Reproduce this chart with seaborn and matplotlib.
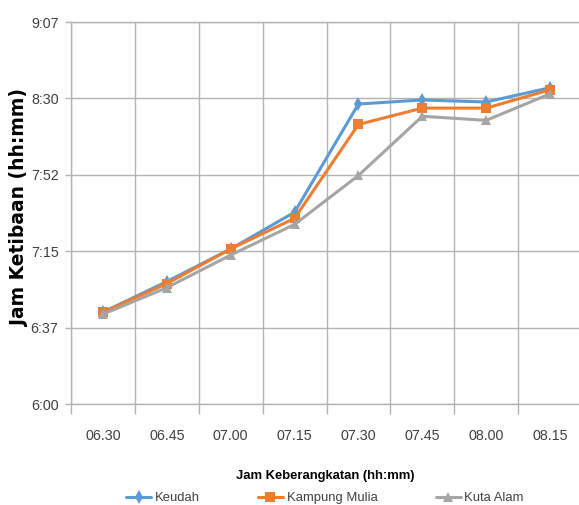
import numpy as np
import pandas as pd
import matplotlib
matplotlib.use("Agg")
import matplotlib.pyplot as plt
from matplotlib import font_manager
from matplotlib.ticker import FixedLocator, FuncFormatter
import seaborn as sns

# Departure times (categories) and arrival times per location
keberangkatan = ["06.30", "06.45", "07.00", "07.15", "07.30", "07.45", "08.00", "08.15"]
keudah = ["6:45", "7:00", "7:16", "7:34", "8:27", "8:29", "8:28", "8:35"]
kampung_mulia = ["6:45", "6:59", "7:16", "7:31", "8:17", "8:25", "8:25", "8:34"]
kuta_alam = ["6:44", "6:57", "7:13", "7:28", "7:52", "8:21", "8:19", "8:32"]
lokasi = ["Keudah", "Kampung Mulia", "Kuta Alam"]
warna = ["#5B9BD5", "#ED7D31", "#A5A5A5"]
penanda = ["d", "s", "^"]


def to_minutes(t):
    h, m = t.split(":")
    return int(h) * 60 + int(m)


def fmt_hm(v, _pos=None):
    total = int(round(v))
    return f"{total // 60}:{total % 60:02d}"


rows = []
for nama, seri in zip(lokasi, [keudah, kampung_mulia, kuta_alam]):
    for jam, t in zip(keberangkatan, seri):
        rows.append({"Keberangkatan": jam, "Ketibaan": to_minutes(t), "Lokasi": nama})
df = pd.DataFrame(rows)

sns.set_theme(style="white")
available = {f.name for f in font_manager.fontManager.ttflist}
if "Liberation Sans Narrow" in available:
    base_font, k = "Liberation Sans Narrow", 1.2
else:
    base_font, k = "Liberation Sans", 1.0
plt.rcParams["font.family"] = [base_font, "DejaVu Sans"]

fig = plt.figure(figsize=(5.79, 5.05), dpi=100)
ax = fig.add_axes([71 / 579, 0.2, (582 - 71) / 579, (404 - 22) / 505])

sns.lineplot(
    data=df, x="Keberangkatan", y="Ketibaan", hue="Lokasi", style="Lokasi",
    hue_order=lokasi, style_order=lokasi,
    palette=dict(zip(lokasi, warna)), markers=dict(zip(lokasi, penanda)),
    dashes=False, sort=False, linewidth=2.2, markersize=7,
    markeredgewidth=0, ax=ax, legend="auto",
)

# Y axis: 6:00 to 9:07 in steps of 0.026 day
step = 0.026 * 24 * 60
yticks = [360 + i * step for i in range(6)]
ax.set_ylim(yticks[0], yticks[-1])
ax.yaxis.set_major_locator(FixedLocator(yticks))
ax.yaxis.set_major_formatter(FuncFormatter(fmt_hm))

# X axis: categories with gridlines between them
ax.set_xlim(-0.5, len(keberangkatan) - 0.5)
ax.set_xticks(range(len(keberangkatan)))
ax.set_xticks(np.arange(-0.5, len(keberangkatan), 1.0), minor=True)

grid_c = "#B3B3B3"
ax.grid(False)
ax.yaxis.grid(True, which="major", color=grid_c, linewidth=1)
ax.xaxis.grid(True, which="minor", color=grid_c, linewidth=1)
ax.set_axisbelow(True)
for s in ax.spines.values():
    s.set_color(grid_c)
    s.set_linewidth(1)

ax.tick_params(axis="x", which="major", length=0, pad=18,
               labelsize=10.3 * k, labelcolor="#404040")
ax.tick_params(axis="x", which="minor", length=7, width=1, color=grid_c,
               direction="out", bottom=True)
ax.tick_params(axis="y", which="major", length=4, width=1, color=grid_c,
               direction="out", left=True, pad=5, labelsize=10.3 * k,
               labelcolor="#404040")

ax.set_xlabel("")
ax.set_ylabel("")
fig.text(325 / 579, 1 - 476 / 505, "Jam Keberangkatan (hh:mm)",
         ha="center", va="center", fontsize=9.4 * k, fontweight="bold",
         color="#000000")
fig.text(20 / 579, 1 - 208 / 505, "Jam Ketibaan (hh:mm)", rotation=90,
         ha="center", va="center", fontsize=13.5, fontweight="bold",
         family=["DejaVu Sans"], color="#000000")

sns.move_legend(
    ax, loc="center", bbox_to_anchor=((325 - 71) / 511, (404 - 498) / 382),
    ncol=3, title=None, frameon=False, fontsize=9.4 * k,
    handlelength=1.9, handletextpad=0.3, columnspacing=4.45,
)
for t in ax.get_legend().get_texts():
    t.set_color("#404040")

fig.savefig("out.png", dpi=100)
